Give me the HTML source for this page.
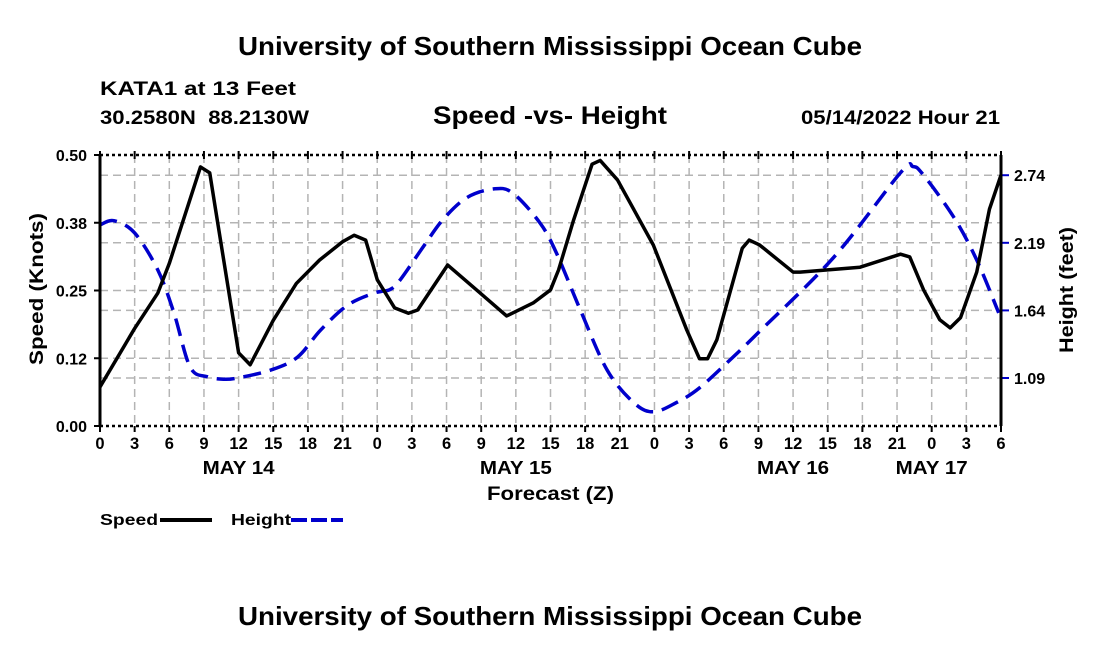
<!DOCTYPE html>
<html><head><meta charset="utf-8"><style>
body{margin:0;background:#fff;}
svg{display:block;font-family:"Liberation Sans",Arial,sans-serif;font-weight:bold;}
</style></head><body>
<svg id="chart" width="1100" height="650" viewBox="0 0 1100 650">
<text x="238" y="55" font-size="26" textLength="624" lengthAdjust="spacingAndGlyphs">University of Southern Mississippi Ocean Cube</text>
<text x="100" y="95" font-size="19" textLength="196" lengthAdjust="spacingAndGlyphs">KATA1 at 13 Feet</text>
<text x="100" y="124" font-size="19" textLength="209" lengthAdjust="spacingAndGlyphs" xml:space="preserve">30.2580N  88.2130W</text>
<text x="433" y="124" font-size="25" textLength="234" lengthAdjust="spacingAndGlyphs">Speed -vs- Height</text>
<text x="801" y="124" font-size="19" textLength="199" lengthAdjust="spacingAndGlyphs">05/14/2022 Hour 21</text>
<text x="238" y="625" font-size="26" textLength="624" lengthAdjust="spacingAndGlyphs">University of Southern Mississippi Ocean Cube</text>
<g id="grid"></g>
<g id="series"></g>
<g id="axes"></g>
<text transform="translate(43,365) rotate(-90)" font-size="19" textLength="152" lengthAdjust="spacingAndGlyphs">Speed (Knots)</text>
<text transform="translate(1073,353) rotate(-90)" font-size="19" textLength="126" lengthAdjust="spacingAndGlyphs">Height (feet)</text>
<text x="487" y="500" font-size="19" textLength="127" lengthAdjust="spacingAndGlyphs">Forecast (Z)</text>
<g>
<text x="100" y="525" font-size="16" textLength="58" lengthAdjust="spacingAndGlyphs">Speed</text>
<line x1="160" y1="520" x2="212" y2="520" stroke="#000" stroke-width="4"/>
<text x="231" y="525" font-size="16" textLength="60" lengthAdjust="spacingAndGlyphs">Height</text>
<line x1="291" y1="520" x2="343" y2="520" stroke="#00c" stroke-width="4" stroke-dasharray="16,4"/>
</g>
</svg>
<script>
const speedHours=[0,3,5,6,8.7,9.5,10,12,13,15,17,19,21,22,23,24,25.5,26.7,27.5,30.1,32.6,35.2,37.5,39,39.7,41,42.6,43.3,44.8,47.9,50.8,51.9,52.6,53.4,55.6,56.2,57.1,60,60.6,65.8,69.3,70.1,71.3,72.7,73.6,74.5,75.9,77,78];
const speedValues=[0.072,0.18,0.245,0.30,0.478,0.467,0.40,0.135,0.113,0.195,0.263,0.306,0.34,0.352,0.343,0.27,0.218,0.208,0.214,0.297,0.251,0.203,0.227,0.251,0.288,0.38,0.483,0.49,0.454,0.334,0.177,0.124,0.124,0.159,0.328,0.343,0.334,0.284,0.284,0.293,0.317,0.312,0.251,0.196,0.181,0.2,0.284,0.40,0.463];
const heightHours=[0,1.2,3,5,6.4,7.8,9.3,10.7,11.9,14.8,17.1,19.1,21.4,23.7,25.1,26,28,29.7,31.8,34.2,35.8,38.1,39.5,41.6,43.9,46.2,47.9,49.9,51.9,54.8,57,63.5,69.3,70.4,71.3,73.9,75.9,77.8];
const heightValues=[2.335,2.37,2.27,1.97,1.62,1.18,1.10,1.08,1.09,1.155,1.26,1.48,1.68,1.78,1.81,1.89,2.16,2.38,2.56,2.63,2.59,2.35,2.11,1.64,1.155,0.89,0.815,0.89,1.01,1.26,1.46,2.07,2.76,2.81,2.74,2.40,2.05,1.62];
const xTickLabels=["0","3","6","9","12","15","18","21","0","3","6","9","12","15","18","21","0","3","6","9","12","15","18","21","0","3","6"];
const dayLabels=["MAY 14","MAY 15","MAY 16","MAY 17"];
const dayHours=[12,36,60,72];
const speedTicks=[0,0.125,0.25,0.375,0.5];
const speedTickLabels=["0.00","0.12","0.25","0.38","0.50"];
const heightTicks=[1.09,1.64,2.19,2.74];

const X0=100,X1=1001,Y0=426,Y1=155;
const xs=h=>X0+h*(X1-X0)/78;
const ys=v=>Y0-v*(Y0-Y1)/0.5;
const yh=f=>378-(f-1.09)*122.9;
const NS="http://www.w3.org/2000/svg";
function mk(tag,attrs,parent){const e=document.createElementNS(NS,tag);for(const k in attrs)e.setAttribute(k,attrs[k]);parent.appendChild(e);return e;}
const grid=document.getElementById('grid'),axes=document.getElementById('axes'),series=document.getElementById('series');
const gstyle={stroke:"#b4b4b4","stroke-width":1.5,"stroke-dasharray":"8,5"};
xTickLabels.forEach((l,i)=>{const x=xs(i*3);
 if(i>0&&i<26){const g=mk('line',Object.assign({x1:x,x2:x,y1:Y1,y2:Y0},gstyle),grid);
 
 }
 const t=mk('line',{x1:x,x2:x,y1:Y0,y2:Y0+6,stroke:"#000","stroke-width":2},axes);
 
 
 const t2=mk('line',{x1:x,x2:x,y1:Y1-4,y2:Y1+4,stroke:"#000","stroke-width":2},axes);
 
 
 const tx=mk('text',{x:x,y:449,"font-size":16.5,"text-anchor":"middle"},axes);tx.textContent=l;
 
 
});
dayLabels.forEach((l,i)=>{const tx=mk('text',{x:xs(dayHours[i]),y:474,"font-size":18,"text-anchor":"middle",textLength:72,lengthAdjust:"spacingAndGlyphs"},axes);tx.textContent=l;
 
 });
speedTicks.forEach((v,i)=>{const y=ys(v);
 if(v>0&&v<0.5){const g=mk('line',Object.assign({x1:X0,x2:X1,y1:y,y2:y},gstyle),grid);
 
 }
 const t=mk('line',{x1:X0-6,x2:X0,y1:y,y2:y,stroke:"#000","stroke-width":2},axes);
 
 
 const tx=mk('text',{x:87,y:y+6,"font-size":16,"text-anchor":"end"},axes);tx.textContent=speedTickLabels[i];
 
 });
heightTicks.forEach(f=>{const y=yh(f);
 const g=mk('line',Object.assign({x1:X0,x2:X1,y1:y,y2:y},gstyle),grid);
 
 
 const t=mk('line',{x1:X1,x2:X1+8,y1:y,y2:y,stroke:"#00c","stroke-width":2},axes);
 
 
 const tx=mk('text',{x:1014,y:y+6,"font-size":16},axes);tx.textContent=f.toFixed(2);
 
 });
[[X0,Y0,X0,Y1,"y-axis-left"],[X1,Y0,X1,Y1,"y-axis-right"]].forEach(a=>{const l=mk('line',{x1:a[0],y1:a[1],x2:a[2],y2:a[3],stroke:"#000","stroke-width":3},axes);
 
 });
[[Y1,"top-border"],[Y0,"x-axis"]].forEach(a=>{const l=mk('line',{x1:X0,y1:a[0],x2:X1,y2:a[0],stroke:"#000","stroke-width":2.5,"stroke-dasharray":"3,3"},axes);
 
 });
function pathFrom(hs,vs,fy){const p=hs.map((h,i)=>[xs(h),fy(vs[i])]);let d="M"+p[0][0]+","+p[0][1];
 for(let i=0;i<p.length-1;i++){const a=p[Math.max(0,i-1)],b=p[i],c=p[i+1],e=p[Math.min(p.length-1,i+2)];
 d+=` C${b[0]+(c[0]-a[0])/6},${b[1]+(c[1]-a[1])/6} ${c[0]-(e[0]-b[0])/6},${c[1]-(e[1]-b[1])/6} ${c[0]},${c[1]}`;}return d;}
function linePath(hs,vs,fy){return hs.map((h,i)=>(i?"L":"M")+xs(h)+","+fy(vs[i])).join(" ");}
const hp=mk('path',{d:pathFrom(heightHours,heightValues,yh),fill:"none",stroke:"#00c","stroke-width":3.5,"stroke-dasharray":"18,9"},series);


const sp=mk('path',{d:linePath(speedHours,speedValues,ys),fill:"none",stroke:"#000","stroke-width":3.5,"stroke-linejoin":"round"},series);


</script>
</body></html>
